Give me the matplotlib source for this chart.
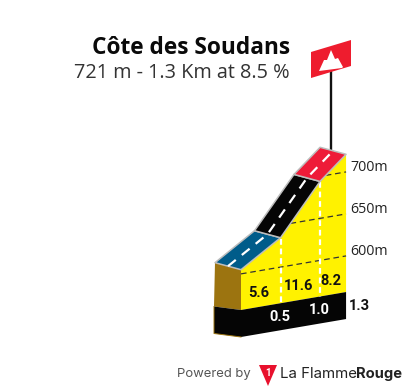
import numpy as np
import matplotlib
matplotlib.use('Agg')
import matplotlib.pyplot as plt
from matplotlib.transforms import Affine2D

# climb data
title = 'Côte des Soudans'
subtitle = '721 m - 1.3 Km at 8.5 %'
km = [0, 0.5, 1.0, 1.33]
elevation = [605, 635, 694, 721]
gradients = [5.6, 11.6, 8.2]
grid_levels = [600, 650, 700]
road_colors = ['#005C8A', '#050505', '#EE1B38']
BASE = 557

fig = plt.figure(figsize=(4.05, 3.91), dpi=100)
ax = fig.add_axes([0, 0, 1, 1])
ax.set_xlim(0, 405)
ax.set_ylim(391, 0)
ax.axis('off')

# oblique projection: km, metres -> pixels
skew = Affine2D.from_values(79, -13.5, 0, -0.84, 241, 310 + 0.84 * BASE)
road_depth = np.array([-26, -7])
side_depth = np.array([-27, -3.5])
band = 27


def proj(k, m):
    return skew.transform(np.column_stack([np.atleast_1d(k), np.atleast_1d(m)]))


top = proj(km, elevation)
bottom = proj(km, [BASE] * len(km))

# yellow face
ax.fill(np.r_[top[:, 0], bottom[::-1, 0]], np.r_[top[:, 1], bottom[::-1, 1]],
        color='#FFF200', lw=0, zorder=1)

# elevation grid
for level in grid_levels:
    start = np.interp(level, elevation, km)
    line = proj([start, km[-1]], [level, level])
    ax.plot(line[:, 0], line[:, 1], color='#333333', lw=0.9, ls=(0, (4.5, 3)), zorder=2)
    ax.text(350, line[-1, 1] - 4.5, f'{level}m', fontsize=10.3, family='Open Sans',
            color='#222222', ha='left', va='center')

# km dividers
for i in [1, 2]:
    ax.plot([top[i, 0]] * 2, [top[i, 1] + 1, bottom[i, 1]], color='white', lw=1.6,
            ls=(0, (2.6, 1.7)), zorder=3)

# brown side
p0, p1 = top[0], bottom[0]
side = np.array([p0 + road_depth, p0, p1, p1 + side_depth])
ax.fill(side[:, 0], side[:, 1], color='#9C7410', lw=0, zorder=1)

# black base band
below = np.array([0, band])
base_poly = np.array([p1 + side_depth, p1, bottom[-1], bottom[-1] + below, p1 + below,
                      p1 + side_depth + below])
ax.fill(base_poly[:, 0], base_poly[:, 1], color='#050505', lw=0, zorder=2)
edge = np.array([p1 + side_depth, p1 + side_depth + below, p1 + below])
ax.plot(edge[:, 0], edge[:, 1], color='#9C7410', lw=0.7, zorder=3)

# road segments
for i, col in enumerate(road_colors):
    seg = np.array([top[i], top[i + 1], top[i + 1] + road_depth, top[i] + road_depth])
    ax.fill(seg[:, 0], seg[:, 1], facecolor=col, edgecolor='#BDBDBD', lw=1.1,
            joinstyle='round', zorder=4)

# road centre line
mid = top + road_depth / 2
ax.plot(mid[:, 0], mid[:, 1], color='white', lw=1.6, ls=(0, (4.5, 3.5)), zorder=5)

# gradient labels
for i, g in enumerate(gradients):
    x = (km[i] + km[i + 1]) / 2
    p = proj(x, BASE)[0]
    ax.text(p[0] - 2, p[1] - 13.5, f'{g:.1f}', fontsize=10.5, fontweight='bold',
            family='Roboto', color='#111111', ha='center', va='center', zorder=6)

# km labels
for k in km[1:3]:
    p = proj(k, BASE)[0]
    ax.text(p[0] - 1, p[1] + 14, f'{k:.1f}', fontsize=10.5, fontweight='bold',
            family='Roboto', color='white', ha='center', va='center', zorder=6)
p = proj(km[-1], BASE)[0]
ax.text(p[0] + 13, p[1] + 14, '1.3', fontsize=10.5, fontweight='bold',
        family='Roboto', color='#111111', ha='center', va='center', zorder=6)

# header
ax.text(290, 48, title, fontsize=16.3, fontweight='bold', family='Open Sans',
        color='#0A0A0A', ha='right', va='center')
ax.text(290, 73, subtitle, fontsize=14.3, family='Open Sans', color='#333333',
        ha='right', va='center')

# flag
ax.plot([331, 331], [70, 150], color='#111111', lw=1.7, zorder=3)
ax.fill([311, 351, 351, 311], [52, 40, 66, 78], color='#EE1C2E', lw=0, zorder=4)
ax.fill([319, 324, 327, 331, 335, 338, 343, 342],
        [71, 60, 60, 50, 59, 58, 67, 68], color='white', lw=0, zorder=5)

# footer
ax.text(177, 374, 'Powered by', fontsize=9.4, family='Inter', color='#555555',
        ha='left', va='center')
ax.fill([259, 277, 268], [365, 365, 386], color='#E8112D', lw=0)
ax.text(268, 372.5, '1', fontsize=7, fontweight='bold', family='Roboto', color='white',
        ha='center', va='center')
ax.text(280, 374, 'La Flamme', fontsize=10.8, family='Inter', color='#222222',
        ha='left', va='center')
ax.text(356, 374, 'Rouge', fontsize=10.6, fontweight='bold', family='Inter', color='#222222',
        ha='left', va='center')

fig.savefig('out.png', dpi=100)
